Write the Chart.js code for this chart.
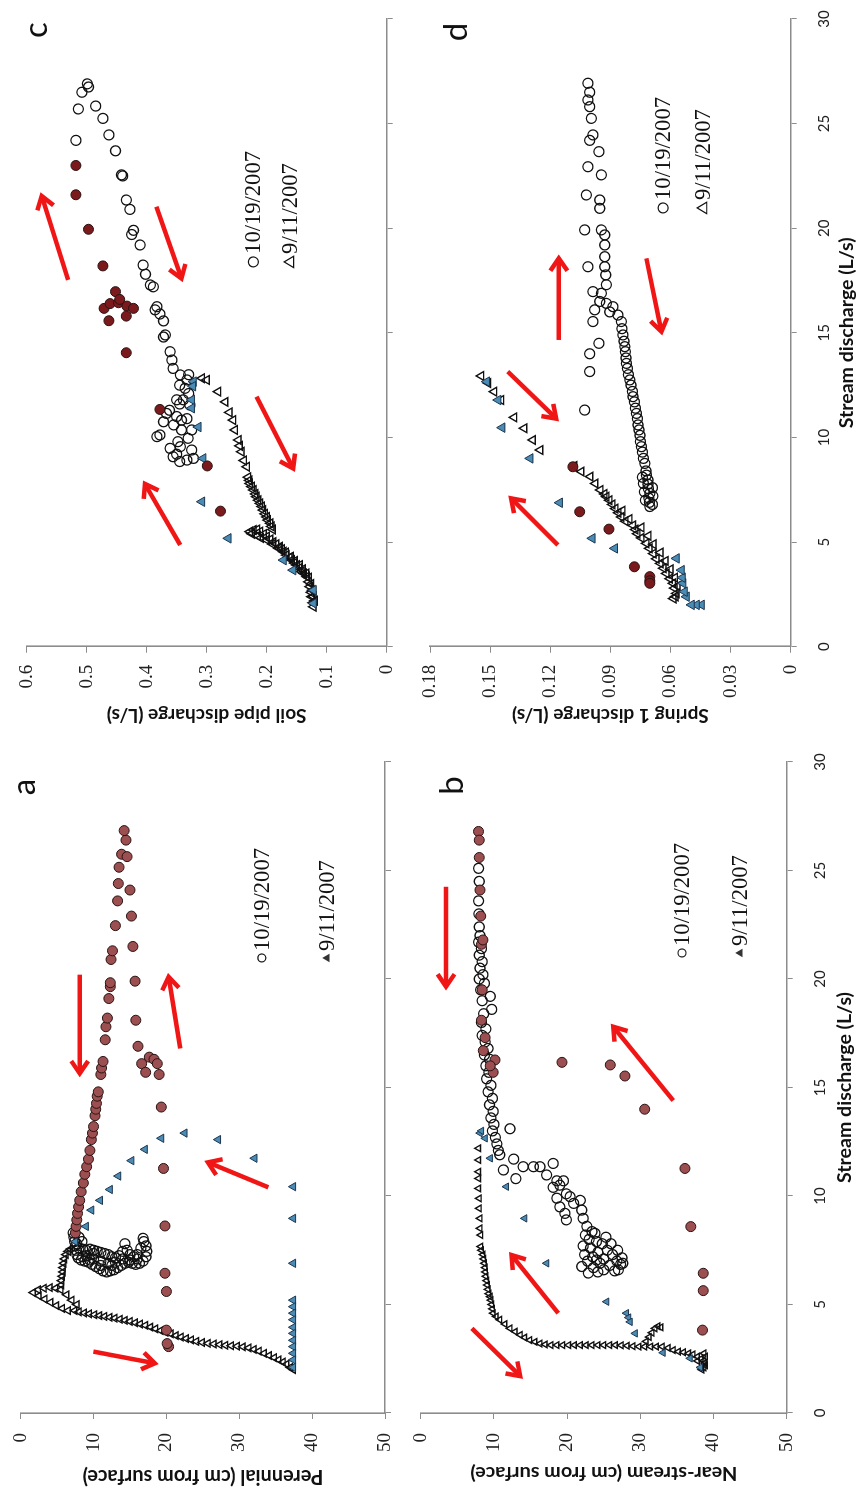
<!DOCTYPE html>
<html><head><meta charset="utf-8">
<script src="https://cdn.jsdelivr.net/npm/chart.js@4.4.0/dist/chart.umd.min.js"></script>
<style>
html,body{margin:0;padding:0;background:#fff;overflow:hidden;width:858px;height:1490px;}
#land{position:absolute;left:0;top:0;width:1490px;height:858px;transform-origin:0 0;transform:translateY(1490px) rotate(-90deg);background:#fff;}
#land canvas{position:absolute;}
</style></head><body>
<div id="land">
<canvas id="cA" width="745" height="410" style="left:0;top:0"></canvas>
<canvas id="cB" width="745" height="448" style="left:0;top:410px"></canvas>
<canvas id="cC" width="745" height="410" style="left:745px;top:0"></canvas>
<canvas id="cD" width="745" height="448" style="left:745px;top:410px"></canvas>
</div>
<script>
// ---------- axis settings ----------
const dischargeRange = [0, 30, 5];
const depthRange = [0, 50, 10];
const soilPipeRange = [0, 0.6, 0.1];
const springRange = [0, 0.18, 0.03];
const seriesLabels = ['10/19/2007', '9/11/2007'];

// ---------- panel a : Perennial (cm from surface) vs stream discharge ----------
const aOctFilled = [[8.3,7.5],[8.6,7.6],[8.9,7.7],[9.2,7.8],[9.5,7.95],[9.8,8.1],[10.2,8.3],[10.6,8.6],[11.0,8.8],[11.35,9.05],[11.7,9.3],[12.1,9.5],[12.6,9.7],[12.9,9.85],[13.2,10.0],[13.7,10.2],[14.0,10.3],[14.27,10.4],[14.6,10.5],[14.8,10.65],[15.6,11.0],[15.9,11.1],[16.2,11.3],[17.2,11.6],[17.8,11.7],[18.2,11.9],[19.1,12.1],[19.65,12.3],[19.83,12.3],[20.9,12.4],[21.3,12.6],[22.46,13.0],[23.6,13.3],[24.4,13.4],[25.15,13.5],[25.75,13.85],[25.64,14.6],[26.4,14.45],[26.84,14.2],[24.1,15.0],[22.9,15.2],[21.5,15.4],[19.9,15.7],[18.1,15.8],[16.9,16.1],[16.1,16.6],[16.4,17.65],[16.3,18.3],[16.1,18.75],[15.7,17.15],[15.6,19.0],[14.1,19.3],[11.27,19.6],[8.62,19.8],[6.44,19.8],[5.6,20.0],[3.82,20.0],[3.06,20.3],[3.2,20.1]];
const aOctOpen = [[8.3,7.2],[8.1,7.3],[7.9,7.4],[7.7,7.5],[7.5,7.6],[7.3,7.7],[7.15,7.9],[7.05,8.3],[7.0,8.8],[6.95,9.3],[6.85,9.8],[6.75,10.3],[6.65,10.8],[6.55,11.3],[6.5,11.8],[6.55,12.3],[6.6,12.8],[6.7,13.3],[6.8,13.8],[6.9,14.3],[6.95,14.8],[6.9,15.3],[6.85,15.8],[6.9,16.3],[7.0,16.8],[7.2,17.2],[7.45,17.3],[7.7,17.2],[7.9,16.9],[8.05,16.8],[7.6,16.5],[7.3,16.0],[7.2,15.5],[7.3,15.0],[7.5,14.6],[7.8,14.3],[7.45,14.0],[7.25,13.5],[7.15,13.0],[7.2,12.5],[7.3,12.0],[7.35,11.5],[7.4,11.0],[7.45,10.5],[7.5,10.0],[7.55,9.5],[7.5,9.0],[7.55,8.5],[7.6,8.0],[7.8,7.7],[7.2,8.5],[7.25,9.0],[7.1,10.0],[7.0,11.0],[6.9,12.0],[6.95,13.0],[7.1,14.0],[7.05,15.0],[7.1,16.0],[6.8,12.5],[6.8,11.0],[7.35,10.0],[7.05,9.5],[7.9,8.4],[8.1,8.0]];
const aSepFilled = [[7.9,7.5],[8.6,8.96],[9.35,9.7],[9.8,10.9],[10.3,12.25],[10.92,13.4],[11.63,15.2],[12.15,17.05],[12.66,19.3],[12.9,22.5],[12.6,27.1],[11.74,32.1],[10.43,37.4],[8.97,37.4],[6.9,37.4],[5.2,37.4],[4.9,37.4],[4.6,37.4],[4.3,37.4],[3.95,37.4],[3.67,37.4],[3.35,37.4],[3.06,37.4],[2.75,37.4],[2.45,37.4],[2.1,37.4]];
const aSepOpen = [[2.0,37.4],[2.1,37.0],[2.25,36.5],[2.35,36.0],[2.45,35.4],[2.55,34.8],[2.65,34.1],[2.75,33.4],[2.85,32.7],[2.93,32.0],[3.0,31.3],[3.05,30.5],[3.08,29.7],[3.1,28.9],[3.12,28.1],[3.15,27.3],[3.18,26.5],[3.21,25.7],[3.25,24.9],[3.3,24.1],[3.37,23.4],[3.43,22.7],[3.5,22.0],[3.57,21.3],[3.65,20.6],[3.72,19.9],[3.8,19.2],[3.88,18.5],[3.96,17.8],[4.04,17.1],[4.1,16.4],[4.16,15.7],[4.22,15.0],[4.27,14.3],[4.32,13.6],[4.37,12.9],[4.41,12.2],[4.45,11.5],[4.49,10.8],[4.53,10.1],[4.57,9.4],[4.61,8.7],[4.66,8.0],[4.72,7.4],[4.72,6.5],[4.82,5.7],[4.95,4.9],[5.1,4.1],[5.25,3.3],[5.4,2.5],[5.55,1.7],[5.68,2.4],[5.75,3.2],[5.78,4.0],[5.75,4.8],[5.68,5.5],[5.9,5.6],[6.1,5.6],[6.3,5.7],[6.5,5.8],[6.7,5.8],[6.9,5.9],[7.1,6.0],[7.3,6.2],[7.45,6.5],[7.55,6.8],[5.45,6.3],[5.2,7.0],[5.0,7.7]];
const aArrows = [[20.2,8.1,15.65,8.1],[16.8,21.9,20.1,20.3],[10.4,34,11.55,25.7],[2.83,9.97,2.29,18.4]];

// ---------- panel b : Near-stream (cm from surface) ----------
const bOctFilled = [[14.0,30.6],[11.27,36.1],[8.59,36.9],[6.44,38.6],[5.64,38.6],[3.82,38.5],[16.16,19.3],[16.04,25.9],[15.53,27.9],[26.8,7.9],[26.4,8.0],[25.6,8.0],[24.1,8.1],[22.9,8.2],[21.6,8.3],[18.1,8.3],[16.7,8.55],[16.27,10.15],[15.7,9.9],[16.0,9.5],[21.8,8.5],[19.5,8.4],[17.3,8.8]];
const bOctOpen = [[25.1,7.9],[24.5,8.0],[23.6,7.9],[23.0,7.95],[22.4,8.0],[22.0,8.1],[21.7,7.9],[21.4,8.3],[21.1,8.0],[20.8,8.4],[20.5,8.1],[20.2,8.5],[20.0,8.0],[19.8,8.7],[19.5,8.2],[19.2,9.5],[19.0,8.4],[18.6,9.7],[18.4,8.6],[18.0,8.3],[17.7,8.9],[17.4,8.4],[17.1,8.8],[16.8,9.2],[16.5,8.7],[16.3,9.4],[16.0,8.9],[15.7,9.3],[15.4,9.0],[15.1,9.6],[14.8,9.2],[14.5,9.8],[14.2,9.4],[13.9,9.9],[13.6,9.6],[13.3,10.0],[13.1,12.2],[13.0,9.8],[12.7,10.2],[12.4,10.4],[12.1,10.6],[11.9,10.8],[11.7,12.7],[11.5,18.1],[11.35,14.0],[11.35,15.4],[11.35,16.3],[11.2,11.3],[10.97,17.2],[10.8,13.0],[10.7,18.6],[10.7,19.5],[10.5,19.0],[10.4,18.1],[10.1,19.9],[9.97,20.4],[9.9,18.6],[9.8,21.8],[9.66,20.9],[9.5,19.0],[9.35,22.0],[9.2,19.7],[8.97,22.2],[8.9,19.9],[8.6,22.7],[8.36,23.4],[8.28,23.8],[8.2,22.5],[8.0,23.0],[7.9,24.0],[7.8,24.8],[7.6,23.2],[7.5,25.5],[7.4,24.2],[7.3,26.2],[7.2,23.5],[7.1,25.0],[7.0,26.8],[7.0,22.8],[6.9,24.5],[6.85,27.3],[6.8,25.8],[6.7,23.6],[6.6,25.0],[6.55,26.5],[6.5,24.2],[6.45,22.9],[7.3,22.4],[7.7,22.2],[6.9,27.6],[7.15,27.5],[7.5,26.9],[7.8,26.0],[8.1,25.3],[6.6,27.0],[6.75,22.0],[7.05,24.0]];
const bSepFilled = [[12.9,8.1],[12.66,8.8],[13.0,8.3],[11.74,9.5],[10.43,11.7],[8.97,14.2],[6.9,17.2],[5.13,25.4],[4.6,28.1],[4.4,28.4],[4.2,28.6],[3.67,29.3],[2.78,33.1],[2.52,36.8],[2.1,38.2]];
const bSepOpen = [[12.2,7.9],[11.66,7.9],[11.12,7.9],[10.81,7.9],[10.35,7.9],[9.89,8.0],[9.43,8.0],[8.97,8.1],[8.51,8.1],[8.2,8.2],[7.67,8.2],[7.5,8.3],[7.3,8.5],[7.1,8.6],[6.9,8.7],[6.7,8.8],[6.5,8.85],[6.3,8.9],[6.1,9.0],[5.9,9.1],[5.7,9.2],[5.5,9.3],[5.36,9.5],[5.2,9.6],[5.0,9.7],[4.8,9.8],[4.6,9.9],[4.45,10.3],[4.3,10.8],[4.1,11.5],[3.9,12.2],[3.75,12.9],[3.6,13.6],[3.48,14.2],[3.36,14.9],[3.28,15.6],[3.2,16.3],[3.16,17.0],[3.13,17.8],[3.13,18.6],[3.13,19.4],[3.13,20.2],[3.13,21.0],[3.13,21.8],[3.13,22.6],[3.13,23.4],[3.13,24.2],[3.13,25.0],[3.13,25.8],[3.13,26.6],[3.12,27.4],[3.1,28.2],[3.08,29.0],[3.06,29.8],[3.06,30.6],[3.06,31.4],[3.06,32.2],[3.06,33.0],[3.0,33.8],[2.9,34.5],[2.83,35.2],[2.8,35.9],[2.75,36.6],[2.7,37.2],[2.6,37.8],[2.5,38.3],[2.4,38.6],[2.3,38.8],[2.2,38.9],[2.1,38.7],[2.0,38.4],[2.4,37.8],[2.6,38.9],[2.75,38.7],[3.3,30.8],[3.5,31.2],[3.7,31.6],[3.9,32.0],[4.0,32.4],[3.95,32.8]];
const bArrows = [[4.6,18.8,7.28,12.4],[3.9,7.0,1.7,13.6],[24.25,3.46,19.65,3.46],[14.4,34.5,17.8,26.3]];

// ---------- panel c : Soil pipe discharge (L/s) ----------
const cOctFilled = [[14.05,0.434],[11.34,0.378],[8.64,0.299],[6.48,0.277],[23.0,0.518],[21.6,0.518],[19.95,0.497],[18.2,0.473],[16.97,0.452],[16.17,0.471],[16.4,0.461],[16.44,0.447],[16.28,0.433],[16.17,0.422],[15.8,0.434],[15.58,0.463],[16.6,0.445]];
const cOctOpen = [[26.9,0.499],[26.75,0.497],[26.5,0.508],[25.7,0.514],[25.84,0.485],[25.25,0.473],[24.46,0.463],[24.2,0.518],[23.7,0.452],[22.55,0.442],[22.5,0.44],[21.35,0.434],[20.9,0.428],[19.9,0.422],[19.7,0.425],[19.2,0.411],[18.24,0.406],[17.8,0.402],[17.29,0.394],[17.2,0.389],[16.25,0.383],[16.1,0.386],[15.9,0.378],[15.57,0.372],[14.9,0.369],[14.8,0.372],[14.1,0.361],[13.7,0.358],[13.3,0.356],[12.99,0.344],[12.75,0.333],[12.35,0.336],[12.1,0.33],[11.8,0.35],[11.8,0.339],[11.55,0.328],[11.3,0.362],[11.15,0.367],[10.83,0.342],[10.9,0.333],[10.75,0.372],[10.6,0.355],[10.36,0.342],[10.36,0.325],[10.12,0.378],[10.04,0.383],[9.96,0.331],[9.8,0.348],[9.56,0.344],[9.48,0.361],[9.4,0.325],[9.2,0.35],[9.08,0.356],[9.0,0.322],[8.92,0.333],[8.85,0.345],[11.0,0.35],[12.5,0.345],[13.0,0.33],[11.6,0.345]];
const cSepFilled = [[12.67,0.322],[12.45,0.323],[11.8,0.325],[11.4,0.325],[10.5,0.314],[9.0,0.306],[6.93,0.308],[5.18,0.264],[4.14,0.172],[3.66,0.156],[2.7,0.122],[2.07,0.122]];
const cSepOpen = [[5.6,0.19],[5.75,0.192],[5.9,0.194],[6.05,0.198],[6.2,0.2],[6.35,0.203],[6.53,0.206],[6.7,0.208],[6.85,0.211],[7.0,0.214],[7.17,0.217],[7.3,0.219],[7.49,0.222],[7.65,0.225],[7.8,0.228],[7.95,0.229],[8.1,0.231],[8.6,0.233],[8.9,0.238],[9.32,0.242],[9.6,0.245],[9.88,0.247],[10.36,0.253],[10.83,0.256],[11.2,0.262],[11.7,0.269],[12.19,0.281],[12.75,0.3],[12.83,0.308],[1.91,0.122],[2.1,0.123],[2.39,0.125],[2.6,0.126],[2.87,0.128],[3.1,0.13],[3.35,0.133],[3.5,0.138],[3.59,0.142],[3.75,0.146],[3.9,0.15],[4.0,0.154],[4.14,0.158],[4.26,0.162],[4.38,0.167],[4.54,0.172],[4.66,0.175],[4.78,0.178],[4.9,0.184],[5.0,0.189],[5.13,0.194],[5.26,0.2],[5.38,0.205],[5.5,0.211],[5.58,0.222],[5.5,0.228],[5.4,0.225],[5.3,0.215],[5.2,0.21],[5.6,0.216],[5.1,0.2],[4.9,0.19],[4.7,0.18],[4.5,0.168],[4.3,0.16],[4.1,0.153],[3.9,0.145],[3.7,0.14],[3.5,0.134],[3.3,0.13],[3.0,0.126],[2.7,0.124],[2.4,0.122],[2.2,0.12]];
const cArrows = [[4.86,0.344,7.78,0.403],[11.95,0.217,8.52,0.156],[17.53,0.531,21.54,0.575],[21.03,0.384,17.6,0.342]];

// ---------- panel d : Spring 1 discharge (L/s) ----------
const dOctFilled = [[8.6,0.1087],[6.45,0.1053],[5.62,0.0907],[3.82,0.078],[3.35,0.0703],[3.15,0.0703],[3.03,0.0703]];
const dOctOpen = [[6.7,0.0703],[6.9,0.0705],[7.1,0.0708],[7.33,0.0703],[7.55,0.071],[7.77,0.0712],[7.97,0.0712],[8.2,0.072],[8.4,0.0722],[8.76,0.0728],[9.0,0.0735],[9.3,0.074],[9.56,0.0745],[9.8,0.075],[10.1,0.0752],[10.36,0.0757],[10.6,0.0762],[10.9,0.0765],[11.15,0.077],[11.4,0.0775],[11.7,0.078],[11.95,0.0787],[12.2,0.079],[12.5,0.0797],[12.75,0.0803],[13.0,0.081],[13.3,0.0815],[13.54,0.082],[13.8,0.0822],[14.1,0.0825],[14.34,0.0828],[14.6,0.0832],[14.9,0.0837],[7.0,0.0725],[7.4,0.073],[7.8,0.0735],[8.1,0.074],[6.8,0.069],[7.2,0.0688],[7.6,0.069],[11.31,0.1028],[13.15,0.1003],[14.0,0.1003],[14.5,0.0957],[26.93,0.1012],[26.5,0.1003],[26.13,0.1012],[25.81,0.1003],[25.25,0.0995],[24.46,0.0987],[24.2,0.1003],[23.66,0.0957],[22.94,0.1012],[22.55,0.0945],[21.59,0.102],[21.35,0.0953],[20.95,0.0953],[19.92,0.1028],[19.92,0.0945],[19.68,0.0928],[19.2,0.0928],[18.64,0.0928],[18.16,0.1012],[18.16,0.0928],[17.77,0.0923],[17.3,0.092],[16.97,0.0987],[16.89,0.0945],[16.5,0.0953],[16.41,0.092],[16.25,0.0887],[16.1,0.0978],[16.0,0.0903],[15.85,0.0862],[15.54,0.0987],[15.54,0.0845],[15.2,0.0842]];
const dSepFilled = [[2.0,0.0445],[2.0,0.047],[2.0,0.0495],[2.39,0.052],[2.63,0.053],[3.03,0.0537],[3.3,0.054],[3.66,0.0545],[4.22,0.057],[4.7,0.0878],[5.18,0.099],[6.88,0.1153],[9.0,0.13],[10.47,0.144],[11.79,0.146],[12.67,0.1517]];
const dSepOpen = [[12.94,0.1545],[12.6,0.151],[12.19,0.148],[11.79,0.1445],[10.96,0.138],[10.44,0.133],[9.88,0.1287],[9.4,0.125],[8.64,0.108],[8.37,0.1045],[8.13,0.1],[7.8,0.0975],[7.49,0.095],[7.3,0.093],[7.17,0.092],[7.0,0.0905],[6.8,0.089],[6.6,0.0875],[6.4,0.086],[6.2,0.0845],[6.0,0.0825],[5.8,0.0787],[5.6,0.0775],[5.4,0.0765],[5.2,0.0745],[4.94,0.072],[4.7,0.0705],[4.45,0.0685],[4.2,0.067],[3.98,0.065],[3.75,0.0635],[3.5,0.062],[3.25,0.0603],[3.03,0.0587],[2.8,0.058],[2.55,0.057],[2.4,0.0575],[2.3,0.0585],[6.5,0.084],[6.1,0.0805],[5.7,0.0745],[5.3,0.071],[4.9,0.0685],[4.5,0.065],[4.1,0.0625],[3.7,0.06],[3.3,0.0578],[2.9,0.0565]];
const dArrows = [[4.86,0.1162,7.09,0.1395],[13.15,0.1412,10.9,0.117],[14.66,0.1157,18.56,0.1157],[18.56,0.072,15.06,0.0645]];

// ---------- helpers ----------
const measCtx = document.createElement('canvas').getContext('2d');
function fitSize(text, font, target) {
  measCtx.font = font.replace('SIZE', '100px');
  return 100 * target / measCtx.measureText(text).width;
}
const titleFont = 'bold SIZE Lato';
const legendSize = fitSize('10/19/2007', 'SIZE "Liberation Serif"', 103);
const xTitleSize = fitSize('Stream discharge (L/s)', titleFont, 191);

const C_AXIS = '#8c8c8c';
const brownA = '#9c4f50', maroon = '#7a1a1c', blueT = '#4a8cb4';

function pts(a) { return a.map(p => ({x: p[0], y: p[1]})); }

function drawArrow(ctx, x1, y1, x2, y2) {
  const ang = Math.atan2(y2 - y1, x2 - x1), hl = 15, ha = 0.6;
  ctx.strokeStyle = '#f01616'; ctx.lineWidth = 4.5; ctx.lineCap = 'butt'; ctx.lineJoin = 'miter';
  ctx.beginPath(); ctx.moveTo(x1, y1); ctx.lineTo(x2 - 2 * Math.cos(ang), y2 - 2 * Math.sin(ang)); ctx.stroke();
  ctx.beginPath();
  ctx.moveTo(x2 - hl * Math.cos(ang - ha), y2 - hl * Math.sin(ang - ha));
  ctx.lineTo(x2, y2);
  ctx.lineTo(x2 - hl * Math.cos(ang + ha), y2 - hl * Math.sin(ang + ha));
  ctx.stroke();
}

const annotPlugin = {
  id: 'annot',
  afterDatasetsDraw(chart, args, o) {
    const {ctx, chartArea, scales: {x, y}} = chart;
    ctx.save();
    o.arrows.forEach(a => drawArrow(ctx, x.getPixelForValue(a[0]), y.getPixelForValue(a[1]), x.getPixelForValue(a[2]), y.getPixelForValue(a[3])));
    const L = o.legend;
    const lx = x.getPixelForValue(L.q), ly1 = y.getPixelForValue(L.y1), ly2 = y.getPixelForValue(L.y2);
    ctx.strokeStyle = '#111'; ctx.lineWidth = 1.2;
    ctx.beginPath(); ctx.arc(lx, ly1, L.r, 0, Math.PI * 2); ctx.stroke();
    const t = L.tri;
    ctx.beginPath();
    ctx.moveTo(lx, ly2 - t); ctx.lineTo(lx + t * 0.95, ly2 + t * 0.6); ctx.lineTo(lx - t * 0.95, ly2 + t * 0.6); ctx.closePath();
    if (L.triFill) { ctx.fillStyle = '#333'; ctx.fill(); } else { ctx.stroke(); }
    ctx.fillStyle = '#111'; ctx.textAlign = 'left'; ctx.textBaseline = 'middle';
    ctx.font = legendSize.toFixed(1) + 'px "Liberation Serif"';
    ctx.fillText(seriesLabels[0], lx + L.r + 3, ly1 + 1);
    ctx.fillText(seriesLabels[1], lx + L.r + 3, ly2 + 1);
    ctx.font = '33px Lato'; ctx.textAlign = 'center'; ctx.textBaseline = 'alphabetic';
    ctx.fillText(o.letter.t, chartArea.right + o.letter.dx, chartArea.top + o.letter.base);
    ctx.restore();
  }
};

function makePanel(id, p) {
  const yTitleSize = fitSize(p.yTitle, titleFont, p.yTitleW);
  const datasets = [
    {label: seriesLabels[0] + ' (rising)', data: pts(p.octF), pointStyle: 'circle', pointRadius: 5, pointBackgroundColor: p.circColor, pointBorderColor: '#2a1212', pointBorderWidth: 1},
    {label: seriesLabels[1] + ' (rising)', data: pts(p.sepF), pointStyle: 'triangle', pointRadius: p.triR + 0.5, pointBackgroundColor: blueT, pointBorderColor: '#1c3550', pointBorderWidth: 1},
    {label: seriesLabels[0], data: pts(p.octO), pointStyle: 'circle', pointRadius: 5, pointBackgroundColor: 'rgba(255,255,255,0)', pointBorderColor: '#111', pointBorderWidth: 1.3},
    {label: seriesLabels[1], data: pts(p.sepO), pointStyle: 'triangle', pointRadius: p.triR, pointBackgroundColor: 'rgba(255,255,255,0)', pointBorderColor: '#111', pointBorderWidth: 1.4}
  ];
  return new Chart(document.getElementById(id), {
    type: 'scatter',
    data: {datasets},
    options: {
      responsive: false, animation: false, devicePixelRatio: 1,
      layout: {padding: p.pad},
      plugins: {legend: {display: false}, tooltip: {enabled: false}, annot: p.annot},
      scales: {
        x: {
          type: 'linear', position: 'bottom', min: dischargeRange[0], max: dischargeRange[1],
          ticks: {stepSize: dischargeRange[2], display: p.xLabels, font: {family: 'Lato', size: 15}, color: '#222', padding: 18},
          grid: {display: true, drawOnChartArea: false, drawTicks: true, tickLength: 6, color: C_AXIS, lineWidth: 1},
          border: {display: true, color: C_AXIS, width: 1.6},
          title: {display: p.xLabels, text: 'Stream discharge (L/s)', color: '#111',
                  font: {family: 'Lato', weight: 'bold', size: xTitleSize},
                  padding: {top: 0, bottom: Math.max(0, p.xTitleOff - 0.6 * xTitleSize)}},
          afterFit(s) { s.height = p.xH; s.paddingLeft = 0; s.paddingRight = 0; s.paddingTop = 0; s.paddingBottom = 0; }
        },
        y: {
          type: 'linear', position: 'left', min: p.yRange[0], max: p.yRange[1], reverse: p.reverse,
          ticks: {stepSize: p.yRange[2], font: {family: '"Liberation Serif"', size: 19}, color: '#222', padding: p.yTickPad,
                  callback: v => String(Math.round(v * 1000) / 1000)},
          grid: {display: true, drawOnChartArea: false, drawTicks: true, tickLength: 6, color: C_AXIS, lineWidth: 1},
          border: {display: true, color: C_AXIS, width: 1.6},
          title: {display: true, text: p.yTitle, color: '#111',
                  font: {family: 'Lato', weight: 'bold', size: yTitleSize},
                  padding: {top: Math.max(0, p.yTitleX - 0.6 * yTitleSize), bottom: 0}},
          afterFit(s) { s.width = p.yW; s.paddingLeft = 0; s.paddingRight = 0; s.paddingTop = 0; s.paddingBottom = 0; }
        }
      }
    },
    plugins: [annotPlugin]
  });
}

makePanel('cA', {
  octF: aOctFilled, octO: aOctOpen, sepF: aSepFilled, sepO: aSepOpen, circColor: brownA, triR: 4.3,
  yRange: depthRange, reverse: true, yTitle: 'Perennial (cm from surface)', yTitleW: 241, yTitleX: 14,
  pad: {left: 0, right: 17, top: 20.7, bottom: 15}, yW: 77, xH: 10, xLabels: false, xTitleOff: 0, yTickPad: 14,
  annot: {arrows: aArrows, legend: {q: 20.97, y1: 33.1, y2: 42.0, r: 4, tri: 4.5, triFill: true}, letter: {t: 'a', dx: -25, base: 14.3}}
});
makePanel('cB', {
  octF: bOctFilled, octO: bOctOpen, sepF: bSepFilled, sepO: bSepOpen, circColor: brownA, triR: 3.8,
  yRange: depthRange, reverse: true, yTitle: 'Near-stream (cm from surface)', yTitleW: 267, yTitleX: 17,
  pad: {left: 0, right: 17, top: 10.7, bottom: 0}, yW: 77, xH: 71.3, xLabels: true, xTitleOff: 13, yTickPad: 14,
  annot: {arrows: bArrows, legend: {q: 21.2, y1: 35.7, y2: 43.6, r: 4, tri: 4.5, triFill: true}, letter: {t: 'b', dx: -23.5, base: 42}}
});
makePanel('cC', {
  octF: cOctFilled, octO: cOctOpen, sepF: cSepFilled, sepO: cSepOpen, circColor: maroon, triR: 5,
  yRange: soilPipeRange, reverse: false, yTitle: 'Soil pipe discharge (L/s)', yTitleW: 200, yTitleX: 30,
  pad: {left: 0, right: 19, top: 26.7, bottom: 13.3}, yW: 98.3, xH: 10, xLabels: false, xTitleOff: 0, yTickPad: 12,
  annot: {arrows: cArrows, legend: {q: 18.39, y1: 0.2223, y2: 0.161, r: 5, tri: 6, triFill: false}, letter: {t: 'c', dx: -11, base: 20}}
});
makePanel('cD', {
  octF: dOctFilled, octO: dOctOpen, sepF: dSepFilled, sepO: dSepOpen, circColor: maroon, triR: 5,
  yRange: springRange, reverse: false, yTitle: 'Spring 1 discharge (L/s)', yTitleW: 197, yTitleX: 30,
  pad: {left: 0, right: 19, top: 20, bottom: 0}, yW: 98.3, xH: 67.3, xLabels: true, xTitleOff: 11, yTickPad: 12,
  annot: {arrows: dArrows, legend: {q: 20.97, y1: 0.0637, y2: 0.0437, r: 5, tri: 6, triFill: false}, letter: {t: 'd', dx: -13, base: 37}}
});
</script>
</body></html>
